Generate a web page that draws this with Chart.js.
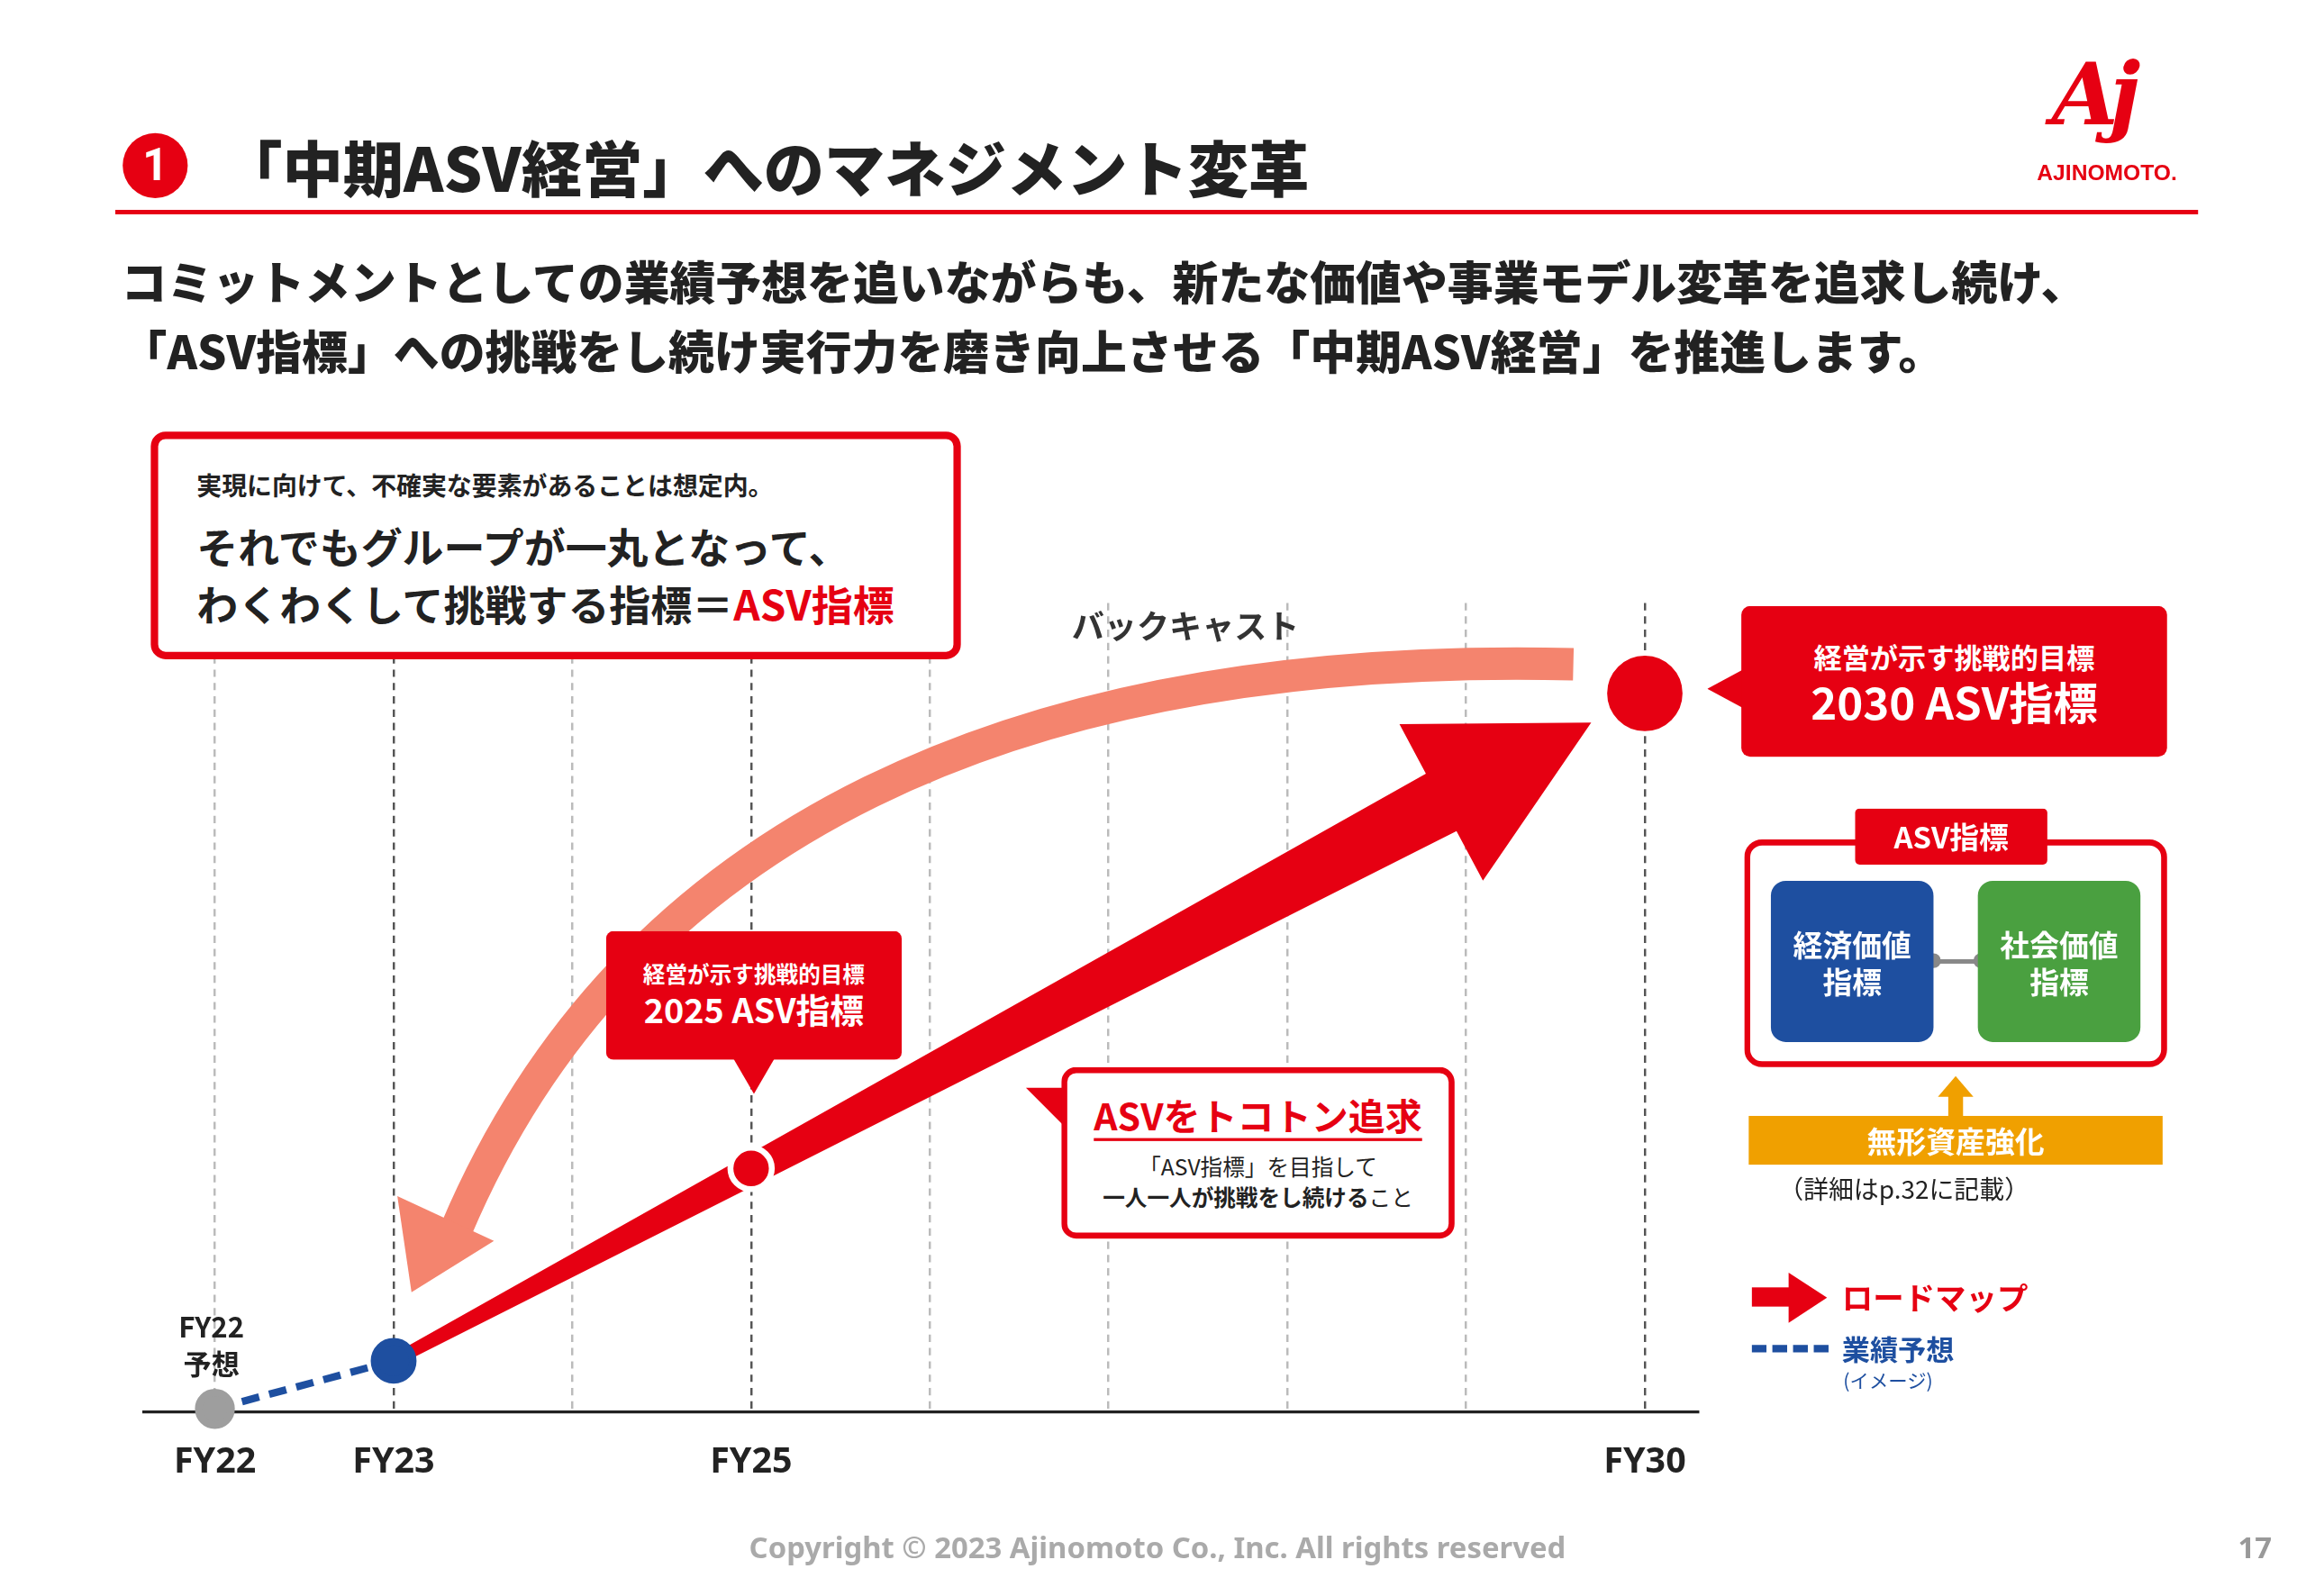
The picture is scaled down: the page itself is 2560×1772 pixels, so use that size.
<!DOCTYPE html>
<html><head><meta charset="utf-8">
<script src="https://cdn.jsdelivr.net/npm/chart.js@4"></script>
<style>
html,body{margin:0;padding:0;background:#fff;overflow:hidden}
#page{position:absolute;left:0;top:0;width:1560px;height:1080px;transform:scale(1.641026);transform-origin:0 0;font-family:"Noto Sans CJK JP","Noto Sans",sans-serif;color:#222}
.a{position:absolute;white-space:nowrap}
.b{font-weight:700}
#chartBox{position:absolute;left:0;top:0;width:1560px;height:1080px}
</style></head><body>
<div id="page">
  <div id="chartBox"><canvas id="c"></canvas></div>

  <div class="a b" style="left:83px;top:90px;width:44px;height:44px;border-radius:50%;background:#e60012;color:#fff;font-size:30px;line-height:44px;text-align:center;font-family:Roboto">1</div>
  <div class="a" style="left:150px;top:82px;font-size:41px;font-weight:900;color:#222">「中期ASV経営」へのマネジメント変革</div>
  <div class="a b" style="left:1388px;top:30px;font-size:58px;color:#e60012;font-style:italic;font-family:'DejaVu Serif';letter-spacing:-6px">Aj</div>
  <div class="a b" style="left:1378px;top:108px;font-size:15px;color:#e60012;font-family:'Liberation Sans'">AJINOMOTO.</div>
  <div class="a" style="left:78px;top:142px;width:1409px;height:3px;background:#e60012"></div>
  <div class="a" style="left:82px;top:166px;font-size:31px;font-weight:900;line-height:47px;color:#222">コミットメントとしての業績予想を追いながらも、新たな価値や事業モデル変革を追求し続け、<br>「ASV指標」への挑戦をし続け実行力を磨き向上させる「中期ASV経営」を推進します。</div>

  <div class="a" style="left:102px;top:292px;width:538px;height:144px;border:5px solid #e60012;border-radius:10px;background:#fff"></div>
  <div class="a b" style="left:133px;top:315px;font-size:17px">実現に向けて、不確実な要素があることは想定内。</div>
  <div class="a b" style="left:133px;top:350px;font-size:28px;line-height:39px">それでもグループが一丸となって、<br>わくわくして挑戦する指標＝<span style="color:#e60012">ASV指標</span></div>

  <div class="a b" style="left:725px;top:406px;font-size:22px;color:#333">バックキャスト</div>

  <div class="a" style="left:1155px;top:452px;width:0;height:0;border-top:14px solid transparent;border-bottom:14px solid transparent;border-right:26px solid #e60012"></div>
  <div class="a b" style="left:1178px;top:410px;width:288px;height:102px;background:#e60012;border-radius:6px;color:#fff;text-align:center">
    <div style="font-size:19px;margin-top:20px">経営が示す挑戦的目標</div>
    <div style="font-size:30px;line-height:34px">2030 ASV指標</div>
  </div>

  <div class="a" style="left:1180px;top:568px;width:278px;height:146px;border:4px solid #e60012;border-radius:12px"></div>
  <div class="a b" style="left:1255px;top:547px;width:130px;height:38px;background:#e60012;color:#fff;font-size:20px;line-height:38px;text-align:center;border-radius:3px">ASV指標</div>
  <div class="a" style="left:1300px;top:649px;width:46px;height:3px;background:#888"></div>
  <div class="a" style="left:1303px;top:645px;width:10px;height:10px;border-radius:50%;background:#888"></div>
  <div class="a" style="left:1335px;top:645px;width:10px;height:10px;border-radius:50%;background:#888"></div>
  <div class="a b" style="left:1198px;top:596px;width:110px;height:109px;background:#1e4fa0;border-radius:10px;color:#fff;font-size:20px;line-height:25px;text-align:center;display:flex;align-items:center;justify-content:center">経済価値<br>指標</div>
  <div class="a b" style="left:1338px;top:596px;width:110px;height:109px;background:#4aa040;border-radius:10px;color:#fff;font-size:20px;line-height:25px;text-align:center;display:flex;align-items:center;justify-content:center">社会価値<br>指標</div>
  <div class="a" style="left:1311px;top:728px;width:0;height:0;border-left:12px solid transparent;border-right:12px solid transparent;border-bottom:14px solid #f0a000"></div>
  <div class="a" style="left:1318px;top:741px;width:10px;height:15px;background:#f0a000"></div>
  <div class="a b" style="left:1183px;top:755px;width:280px;height:33px;background:#f0a000;color:#fff;font-size:20px;line-height:33px;text-align:center">無形資産強化</div>
  <div class="a" style="left:1203px;top:791px;font-size:17px">（詳細はp.32に記載）</div>

  <div class="a" style="left:1185px;top:871px;width:26px;height:13px;background:#e60012"></div>
  <div class="a" style="left:1210px;top:861px;width:0;height:0;border-top:17px solid transparent;border-bottom:17px solid transparent;border-left:26px solid #e60012"></div>
  <div class="a b" style="left:1246px;top:862px;font-size:21px;color:#e60012">ロードマップ</div>
  <div class="a" style="left:1185px;top:910px;width:52px;height:0;border-top:5px dashed #1e4fa0"></div>
  <div class="a b" style="left:1246px;top:898px;font-size:19px;color:#1e4fa0">業績予想</div>
  <div class="a" style="left:1247px;top:924px;font-size:13px;color:#1e4fa0">(イメージ)</div>

  <div class="a b" style="left:410px;top:630px;width:200px;height:87px;background:#e60012;border-radius:5px;color:#fff;text-align:center">
    <div style="font-size:15px;margin-top:18px">経営が示す挑戦的目標</div>
    <div style="font-size:23px;line-height:27px">2025 ASV指標</div>
  </div>
  <div class="a" style="left:496px;top:716px;width:0;height:0;border-left:14px solid transparent;border-right:14px solid transparent;border-top:24px solid #e60012"></div>

  <div class="a" style="left:694px;top:736px;width:0;height:0;border-top:0 solid transparent;border-bottom:30px solid transparent;border-right:30px solid #e60012"></div>
  <div class="a" style="left:718px;top:722px;width:258px;height:108px;border:4px solid #e60012;border-radius:10px;background:#fff;text-align:center">
    <div class="b" style="font-size:25px;color:#e60012;margin-top:10px;text-decoration:underline;text-underline-offset:5px">ASVをトコトン追求</div>
    <div style="font-size:15px;margin-top:6px;line-height:21px">「ASV指標」を目指して<br><b>一人一人が挑戦をし続ける</b>こと</div>
  </div>

  <div class="a b" style="left:112px;top:884px;width:62px;font-size:19px;line-height:25px;text-align:center">FY22<br>予想</div>

  <div class="a b" style="left:0;top:1033px;width:1566px;text-align:center;font-size:20px;color:#aaa;font-family:'Noto Sans'">Copyright © 2023 Ajinomoto Co., Inc. All rights reserved</div>
  <div class="a b" style="left:1514px;top:1033px;font-size:20px;color:#999;font-family:'Noto Sans'">17</div>
</div>
<script>
const years = [2022, 2023, 2025, 2030];
const yearLabels = {2022: "FY22", 2023: "FY23", 2025: "FY25", 2030: "FY30"};
const forecastValues = [2, 35];          // FY22予想 -> FY23
const roadmapValues = [35, 167];         // FY23 -> FY25
const targetValue = 493;                 // FY30 目標
const majorYears = [2023, 2025, 2030];

const RED = "#e60012", BLUE = "#1e4fa0", SALMON = "#f4846e";

const arrowsPlugin = {
  id: "arrows",
  beforeDatasetsDraw(chart) {
    const {ctx, scales: {x, y}} = chart;
    const P = (yr, v) => [x.getPixelForValue(yr), y.getPixelForValue(v)];
    ctx.save();
    // バックキャスト curve
    const s = P(2029.6, 513), c1 = P(2026.5, 522), c2 = P(2024.3, 400), e = P(2023.35, 125), tip = P(2023.1, 82);
    ctx.strokeStyle = SALMON; ctx.lineWidth = 22; ctx.lineCap = "butt";
    ctx.beginPath(); ctx.moveTo(s[0], s[1]); ctx.bezierCurveTo(c1[0], c1[1], c2[0], c2[1], e[0], e[1]); ctx.stroke();
    let dx = tip[0] - c2[0], dy = tip[1] - c2[1], L = Math.hypot(dx, dy); dx /= L; dy /= L;
    const hb = [tip[0] - dx * 55, tip[1] - dy * 55];
    ctx.fillStyle = SALMON; ctx.beginPath();
    ctx.moveTo(tip[0], tip[1]);
    ctx.lineTo(hb[0] - dy * 36, hb[1] + dx * 36);
    ctx.lineTo(hb[0] + dy * 36, hb[1] - dx * 36);
    ctx.closePath(); ctx.fill();
    // roadmap arrow
    const a = P(2023, 35), t = P(2029.7, 473);
    dx = t[0] - a[0]; dy = t[1] - a[1]; L = Math.hypot(dx, dy); dx /= L; dy /= L;
    const nx = -dy, ny = dx;
    const b = [t[0] - dx * 115, t[1] - dy * 115];
    ctx.fillStyle = RED; ctx.beginPath();
    ctx.moveTo(a[0] + nx * 4, a[1] + ny * 4);
    ctx.lineTo(b[0] + nx * 22, b[1] + ny * 22);
    ctx.lineTo(b[0] + nx * 60, b[1] + ny * 60);
    ctx.lineTo(t[0], t[1]);
    ctx.lineTo(b[0] - nx * 60, b[1] - ny * 60);
    ctx.lineTo(b[0] - nx * 22, b[1] - ny * 22);
    ctx.lineTo(a[0] - nx * 4, a[1] - ny * 4);
    ctx.closePath(); ctx.fill();
    ctx.restore();
  }
};

new Chart(document.getElementById("c"), {
  type: "scatter",
  data: {
    datasets: [
      {data: [{x: years[0], y: forecastValues[0]}, {x: years[1], y: forecastValues[1]}], showLine: true, clip: false,
       borderColor: BLUE, borderWidth: 5, borderDash: [12, 7], pointRadius: [11, 13],
       pointBackgroundColor: ["#9e9e9e", BLUE], pointBorderColor: ["#9e9e9e", BLUE]},
      {data: [{x: years[2], y: roadmapValues[1]}], clip: false, pointRadius: 14, pointBackgroundColor: RED, pointBorderColor: "#fff", pointBorderWidth: 4},
      {data: [{x: years[3], y: targetValue}], clip: false, pointRadius: 25, pointBackgroundColor: RED, pointBorderColor: RED}
    ]
  },
  plugins: [arrowsPlugin],
  options: {
    responsive: true, maintainAspectRatio: false, animation: false,
    devicePixelRatio: 2560 / 1560,
    layout: {padding: {left: 97, right: 411, top: 408, bottom: 56}},
    plugins: {legend: {display: false}, tooltip: {enabled: false}},
    scales: {
      x: {type: "linear", min: 2021.6, max: 2030.3,
        afterBuildTicks: ax => { ax.ticks = [2022, 2023, 2024, 2025, 2026, 2027, 2028, 2029, 2030].map(v => ({value: v})); },
        ticks: {padding: 20, color: "#222", font: {size: 24, weight: "bold", family: "'Noto Sans'"},
          callback: v => yearLabels[v] || ""},
        grid: {drawTicks: false, lineWidth: 1.5,
          color: c => majorYears.includes(c.tick && c.tick.value) ? "#555" : "#bbb"},
        border: {color: "#222", width: 2, dash: [5, 4]}
      },
      y: {display: false, min: 0, max: 555}
    }
  }
});
</script>
</body></html>
